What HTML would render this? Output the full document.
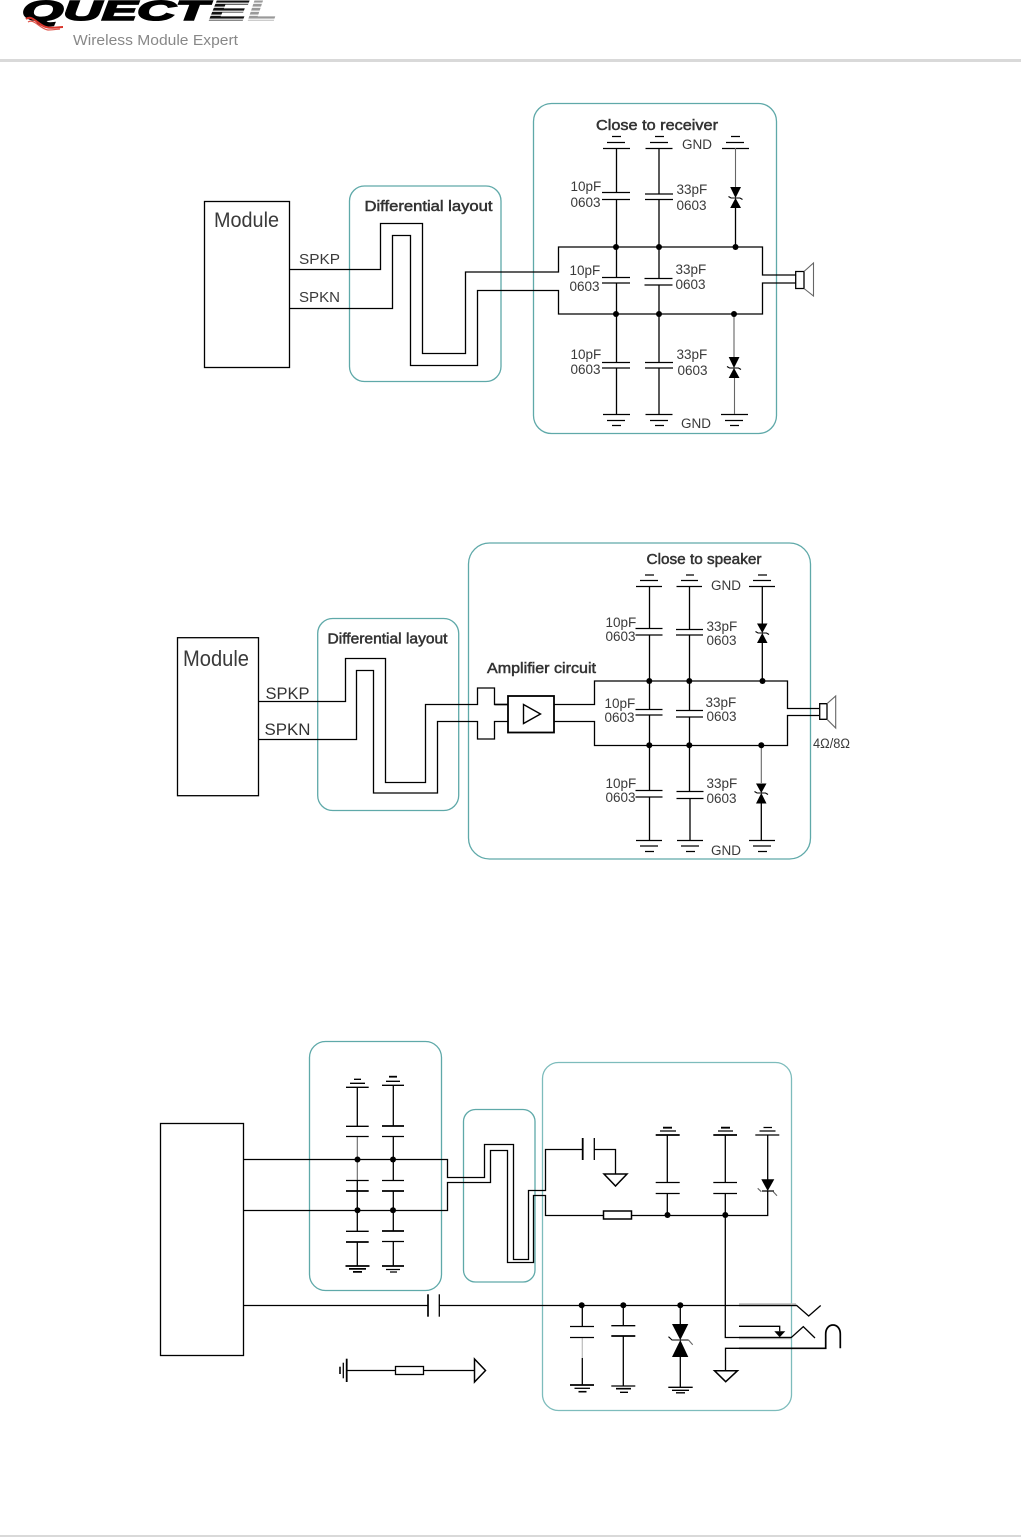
<!DOCTYPE html>
<html><head><meta charset="utf-8"><style>
html,body{margin:0;padding:0;background:#fff}
svg{display:block}
.w{fill:none;stroke:#000;stroke-width:1.3}
.n{fill:none;stroke:#000;stroke-width:1.1}
.k{fill:none;stroke:#000;stroke-width:2.2}
.g{fill:none;stroke:#666;stroke-width:1.1}
.b{fill:none;stroke:#5fa9a9;stroke-width:1.3}
.f{fill:#000;stroke:none}
.t{font-family:"Liberation Sans",sans-serif;fill:#3a3a3a;font-size:13.5px}
.h{font-family:"Liberation Sans",sans-serif;fill:#333;font-size:15px;stroke:#333;stroke-width:.5}
.m{font-family:"Liberation Sans",sans-serif;fill:#3a3a3a;font-size:21px}
.s{font-family:"Liberation Sans",sans-serif;fill:#333;font-size:16px}
</style></head><body>
<svg width="1021" height="1537" viewBox="0 0 1021 1537" xmlns="http://www.w3.org/2000/svg">
<defs>
<linearGradient id="st" x1="0" y1="0" x2="0" y2="4" gradientUnits="userSpaceOnUse" spreadMethod="repeat">
<stop offset="0" stop-color="#111"/><stop offset=".6" stop-color="#111"/><stop offset=".6" stop-color="#ccc"/><stop offset="1" stop-color="#ccc"/>
</linearGradient>
<linearGradient id="st2" x1="0" y1="0" x2="0" y2="4" gradientUnits="userSpaceOnUse" spreadMethod="repeat">
<stop offset="0" stop-color="#999"/><stop offset=".6" stop-color="#999"/><stop offset=".6" stop-color="#eee"/><stop offset="1" stop-color="#eee"/>
</linearGradient>
</defs>

<!-- header -->
<g font-family="'Liberation Sans',sans-serif" font-weight="bold" font-style="italic" font-size="28">
<text x="22" y="20" textLength="186" lengthAdjust="spacingAndGlyphs" fill="#000" stroke="#000" stroke-width="1.6">QUECT</text>
<text x="209" y="20" textLength="38" lengthAdjust="spacingAndGlyphs" fill="url(#st)" stroke="url(#st)" stroke-width="1">E</text>
<text x="248" y="20" textLength="29" lengthAdjust="spacingAndGlyphs" fill="url(#st2)" stroke="url(#st2)" stroke-width="1">L</text>
</g>
<path d="M26,19 C32,14 38,25 46,27 C52,29 58,27 63,27" fill="none" stroke="#d8352c" stroke-width="2"/>
<path d="M28,22 C34,18 40,29 48,30 C54,30 58,29 60,29" fill="none" stroke="#e0564c" stroke-width="1.2"/>
<text x="73" y="45" font-family="'Liberation Sans',sans-serif" font-size="15" fill="#888" textLength="165" lengthAdjust="spacingAndGlyphs">Wireless Module Expert</text>
<rect x="0" y="59" width="1021" height="3" fill="#d9d9d9"/>
<rect x="0" y="1535" width="1021" height="2" fill="#d9d9d9"/>

<!-- ===== Diagram 1 ===== -->
<rect class="b" x="349.5" y="186" width="151.5" height="195.5" rx="15"/>
<rect class="b" x="533.5" y="103.5" width="243" height="330" rx="18"/>
<rect class="w" x="204.5" y="201.5" width="85" height="166"/>
<text class="m" x="214" y="227" textLength="65" lengthAdjust="spacingAndGlyphs">Module</text>
<text class="t" x="299" y="264" textLength="41" lengthAdjust="spacingAndGlyphs" style="font-size:15px">SPKP</text>
<text class="t" x="299" y="302" textLength="41" lengthAdjust="spacingAndGlyphs" style="font-size:15px">SPKN</text>
<text class="h" x="364.5" y="211" textLength="128" lengthAdjust="spacingAndGlyphs">Differential layout</text>
<text class="h" x="596" y="130" textLength="122" lengthAdjust="spacingAndGlyphs">Close to receiver</text>
<path class="w" d="M289,269.5H380.5V223.5H422.5V353.5H465.5V272H558.5V247H762.5V275H796"/>
<path class="w" d="M289,308.5H392.5V235.5H410.5V365.5H477.5V290.5H558.5V314H762.5V283H796"/>
<!-- col 1 -->
<path class="w" d="M616.5,148V192.5M616.5,199.5V277.5M616.5,283V362.5M616.5,368V414"/>
<path class="w" d="M659,148V194M659,199.5V278.5M659,285V362.5M659,368V414"/>
<path class="w" d="M603,148.5H630M607,142.5H625M612,136.5H621M645.5,148.5H672.5M650,142.5H668M655,136.5H664"/>
<path class="w" d="M722,148.5H749M726,142.5H744M731,136.5H740"/>
<path class="w" d="M602,192.5H630M602,199.5H630M645,194H673M645,199.5H673M602,277.5H630M602,283H630M644.5,278.5H672.5M644.5,285H672.5M602,362.5H630M602,368H630M645,362.5H673M645,368H673"/>
<path class="w" d="M603,414.5H630M607,420.5H625M612,425.5H621M645.5,414.5H672.5M650,420.5H668M655,425.5H664M721,414.5H748M725,420.5H743M730,425.5H739"/>
<path class="g" d="M735.5,148V187"/>
<path class="w" d="M735.5,208V247"/>
<path class="f" d="M730.2,187H741L735.5,198ZM735.5,198L741,208H730.2Z"/>
<path class="n" d="M728.5,196.5L731,198H740L742.5,199.5"/>
<path class="g" d="M734,314V357M734.5,378V414"/>
<path class="f" d="M728.7,357H739.5L734,368ZM734,368L739.5,378H728.7Z"/>
<path class="n" d="M727,366.5L729.5,368H738.5L741,369.5"/>
<g class="f"><circle cx="616" cy="247" r="3"/><circle cx="659" cy="247" r="3"/><circle cx="735.5" cy="247" r="3"/><circle cx="616" cy="314" r="3"/><circle cx="659" cy="314" r="3"/><circle cx="734" cy="314" r="3"/></g>
<path class="w" d="M795.7,271.5H804V288.5H795.7Z"/>
<path class="g" d="M804,271.5L813.5,263V296L804,288.5"/>
<g>
<text class="t" x="570.5" y="191">10pF</text><text class="t" x="570.5" y="207">0603</text>
<text class="t" x="676.5" y="194">33pF</text><text class="t" x="676.5" y="210">0603</text>
<text class="t" x="569.5" y="275">10pF</text><text class="t" x="569.5" y="291">0603</text>
<text class="t" x="675.5" y="274">33pF</text><text class="t" x="675.5" y="289">0603</text>
<text class="t" x="570.5" y="359">10pF</text><text class="t" x="570.5" y="374">0603</text>
<text class="t" x="676.5" y="359">33pF</text><text class="t" x="677.5" y="375">0603</text>
<text class="t" x="682" y="149">GND</text><text class="t" x="681" y="428">GND</text>
</g>

<!-- ===== Diagram 2 ===== -->
<rect class="b" x="317.7" y="618.5" width="141" height="192" rx="15"/>
<rect class="b" x="468.5" y="543" width="342" height="316" rx="21"/>
<rect class="w" x="177.5" y="637.7" width="81" height="158"/>
<text class="m" x="183" y="666" textLength="66" lengthAdjust="spacingAndGlyphs" style="font-size:22px">Module</text>
<text class="s" x="265.5" y="699" textLength="44" lengthAdjust="spacingAndGlyphs" style="font-size:17px">SPKP</text>
<text class="s" x="264.5" y="735" textLength="46" lengthAdjust="spacingAndGlyphs" style="font-size:17px">SPKN</text>
<text class="h" x="327.5" y="643.5" textLength="120" lengthAdjust="spacingAndGlyphs">Differential layout</text>
<text class="h" x="646.5" y="564" textLength="115" lengthAdjust="spacingAndGlyphs">Close to speaker</text>
<text class="h" x="487" y="673" textLength="109" lengthAdjust="spacingAndGlyphs">Amplifier circuit</text>
<path class="w" d="M258.5,701.5H345.5V658.5H385.5V782.5H425.5V704.5H477.5V688H494.5V704.5H508"/>
<path class="w" d="M258.5,739.5H356.5V670.5H373.5V793H437.5V721.5H477.5V739H494.5V721.5H508"/>
<path class="w" style="stroke-width:1.6" d="M494.5,704.5H508"/>
<rect x="508" y="696" width="46" height="36.5" fill="#fff" stroke="#000" stroke-width="1.8"/>
<path class="w" style="stroke-width:1.4" d="M523.5,704.5L540.5,714L523.5,723.5Z"/>
<path class="w" d="M554,704.5H594.5V681H787.5V708.5H819"/>
<path class="w" d="M554,721.5H594.5V745.5H787.5V715.5H819"/>
<path class="w" d="M649.5,586V628.5M649.5,635V709.5M649.5,715V790.5M649.5,797V840"/>
<path class="w" d="M689.5,586V629.5M689.5,635V710.5M689.5,717V791.5M690,798.5V840"/>
<path class="w" d="M636,586.5H662M640,580.5H658M645,575H654M676.5,586.5H702M681,580.5H698M686,575H694M749,586.5H775M753,580.5H771M758,575H767"/>
<path class="w" d="M635.5,628.5H662.5M635.5,635H662.5M676,629.5H703M676,635H703M635.5,709.5H662.5M635.5,715H662.5M676,710.5H703M676,717H703M635.5,790.5H662.5M635.5,797H662.5M676.5,791.5H703.5M676.5,798.5H703.5"/>
<path class="w" d="M636,840.5H662M640,846H658M645,851.5H654M677,840.5H703M681,846H699M686,851.5H695M749,840.5H775M753,846H771M758,851.5H767"/>
<path class="w" d="M762.3,586V623.5M762.3,642V681M761.3,803V840"/>
<path class="g" d="M761.3,745V783"/>
<path class="f" d="M757,623.5H767.5L762.3,633ZM762.3,633L767.5,643H757Z"/>
<path class="n" d="M755.5,631.5L758,633H766.5L769,634.5"/>
<path class="f" d="M756,783.5H766.5L761.3,793ZM761.3,793L766.5,803.5H756Z"/>
<path class="n" d="M754.5,791.5L757,793H765.5L768,794.5"/>
<g class="f"><circle cx="649.3" cy="681" r="3"/><circle cx="689.3" cy="681" r="3"/><circle cx="762.5" cy="681" r="3"/><circle cx="649.3" cy="745.3" r="3"/><circle cx="689.3" cy="745.3" r="3"/><circle cx="761.3" cy="745.3" r="3"/></g>
<path class="w" d="M819.7,703.7H827V719.3H819.7Z"/>
<path class="g" d="M827,703.7L835.7,696V728L827,719.3"/>
<g>
<text class="t" x="605.5" y="627">10pF</text><text class="t" x="605.5" y="641">0603</text>
<text class="t" x="706.5" y="631">33pF</text><text class="t" x="706.5" y="645">0603</text>
<text class="t" x="604.5" y="708">10pF</text><text class="t" x="604.5" y="722">0603</text>
<text class="t" x="705.5" y="707">33pF</text><text class="t" x="706.5" y="721">0603</text>
<text class="t" x="605.5" y="788">10pF</text><text class="t" x="605.5" y="802">0603</text>
<text class="t" x="706.5" y="788">33pF</text><text class="t" x="706.5" y="803">0603</text>
<text class="t" x="711" y="590">GND</text><text class="t" x="711" y="855">GND</text>
<text class="t" x="813" y="748" textLength="37" lengthAdjust="spacingAndGlyphs">4Ω/8Ω</text>
</g>

<!-- ===== Diagram 3 ===== -->
<rect class="b" x="309.5" y="1041.5" width="132" height="249" rx="16"/>
<rect class="b" x="463.5" y="1109.5" width="71.5" height="172.5" rx="12"/>
<rect class="b" x="542.5" y="1062.5" width="249" height="348" rx="16" style="stroke:#7dbcbc"/>
<rect class="w" x="160.5" y="1123.5" width="83" height="232"/>
<path class="w" d="M243.5,1159.5H447.5V1177.5H484.5V1144.5H513.5V1259.5H528.5V1190.5H545.5V1149.5H582.5"/>
<path class="w" d="M243.5,1210.5H447.5V1182.5H490.5V1150.5H507.5V1262.5H533.5V1195.5H545.5V1215.5H604"/>
<!-- left caps -->
<path class="w" d="M357.3,1087V1126M357.3,1180V1191M357.3,1191V1231M357.3,1242V1266"/>
<path class="g" d="M357.3,1136.5V1180"/>
<path class="w" d="M393.3,1085V1126M393.3,1136.5V1180.5M393.3,1191V1231M393.3,1241.5V1266"/>
<path class="w" d="M346,1087.3H368.7M350,1083.3H365M354,1079.3H361M382,1085.3H404M386,1081.3H400M346,1126.3H368.7M346,1136.5H368.7M382,1136.5H404M346,1180.5H368.7M382,1180.5H404M346,1231.3H368.7M382,1241.5H404"/>
<path class="w" d="M389,1076.7H397" style="stroke-width:1.8"/>
<path class="k" d="M382,1126H404M346,1191H368.7M382,1191H404M346,1242H368.7M382,1231H404M345.5,1266H369.5M349,1268.9H366M353,1271.9H362M382,1266H404" style="stroke-width:1.8"/>
<path class="w" d="M386,1269.5H400M390,1272H397"/>
<g class="f"><circle cx="357.5" cy="1159.5" r="3"/><circle cx="393" cy="1159.5" r="3"/><circle cx="357.5" cy="1210.3" r="3"/><circle cx="393" cy="1210.3" r="3"/></g>
<!-- bottom line -->
<path class="w" d="M243.5,1305.5H428M439.3,1305.5H796.7L808.7,1316L820.7,1305.5"/>
<path class="k" d="M428,1294.3V1316.7" style="stroke-width:1.7"/>
<path class="w" d="M439.3,1294.3V1316.7"/>
<!-- left lower symbol -->
<path class="k" d="M346.7,1358.7V1382" style="stroke-width:1.8"/>
<path class="w" d="M343.3,1362.7V1378.3"/>
<path class="k" d="M340,1366.7V1374" style="stroke-width:1.6"/>
<path class="w" d="M347,1370.5H395.5M423.5,1370.5H474"/>
<rect class="w" x="395.5" y="1366.5" width="28" height="8"/>
<path class="w" style="stroke-width:1.5" d="M474.5,1359L485.5,1370.5L474.5,1382Z"/>
<!-- right top -->
<path class="k" d="M582.7,1138V1160" style="stroke-width:1.8"/>
<path class="w" d="M594.3,1138V1160M594.3,1149.5H615.5V1174"/>
<path class="w" style="stroke-width:1.5" d="M604,1174H627L615.5,1186Z"/>
<path class="w" d="M632,1215.5H767.7V1191"/>
<rect class="w" x="603.5" y="1211" width="28" height="8" style="stroke-width:1.5"/>
<path class="w" d="M667.3,1135V1182M667.3,1193.5V1215M725.3,1135V1182M725.3,1193.5V1337.5H791.3L803.3,1326.7L815,1338"/>
<path class="w" d="M655.7,1182.5H679.7M655.7,1193.5H679.7M713.3,1182.5H737M713.3,1193.5H737M660,1131H676M718,1131H733"/>
<path class="k" d="M655.7,1135H679.7M713.3,1135H737M663,1127.7H672M721,1127.7H730" style="stroke-width:1.8"/>
<path class="w" d="M767.7,1135V1180M755.3,1135H779.3M759.5,1131H775.5M763.5,1127.5H772M762,1191H774"/>
<path class="f" d="M761.3,1179.3H774.3L767.7,1191Z"/>
<path class="g" d="M757.7,1188.3L761.3,1191.7M773.3,1191.7L777,1195.7"/>
<g class="f"><circle cx="667.5" cy="1215" r="3"/><circle cx="725.3" cy="1215" r="3"/><circle cx="581.7" cy="1305.3" r="3"/><circle cx="623.3" cy="1305.3" r="3"/><circle cx="680.3" cy="1305.3" r="3"/></g>
<!-- right lower -->
<path d="M739,1304.5H796M739,1338H791" fill="none" stroke="#bbb" stroke-width="2.5"/>
<path class="w" d="M739,1305.5H796.7M739,1337.5H791.3"/>
<path class="w" d="M582.3,1305V1326.5M582.3,1358V1385"/>
<path d="M582.3,1337.5V1358" fill="none" stroke="#bbb" stroke-width="1.2"/>
<path class="w" d="M570,1326.5H594M570,1337.5H594"/>
<path class="k" d="M570,1385H594" style="stroke-width:1.8"/>
<path class="w" d="M574.5,1388.3H590"/>
<path class="k" d="M578.5,1391.7H586.5" style="stroke-width:1.6"/>
<path class="w" d="M623.3,1305V1325.7M623.3,1336V1386M611.3,1325.7H635.3M611.3,1386H635.3M620,1392.3H628"/>
<path class="k" d="M611.3,1336H635.3M616,1388.7H631" style="stroke-width:1.7"/>
<path class="w" d="M680.3,1305V1324M680.3,1357V1387.3M668.3,1387.3H692.7M672,1390.3H689M676,1392.8H685"/>
<path class="f" d="M672,1324H688.3L680.3,1340ZM680.3,1340L688.3,1357H672Z"/>
<path class="n" d="M668.5,1336.7L672,1340H688.5"/>
<path class="g" d="M688.5,1340L692.7,1344.7"/>
<path class="w" d="M739,1326.3H779.7V1331.3"/>
<path class="f" d="M774.3,1331.3H785.3L779.7,1337.3Z"/>
<path class="w" d="M725.5,1370.7V1348.3H739"/>
<path d="M739,1348.3H825.7V1334C825.7,1322 840.3,1322 840.3,1334V1348.3" fill="none" stroke="#000" stroke-width="1.7"/>
<path class="w" style="stroke-width:1.5" d="M714.5,1370.7H737.5L725.7,1381.7Z"/>
</svg>
</body></html>
